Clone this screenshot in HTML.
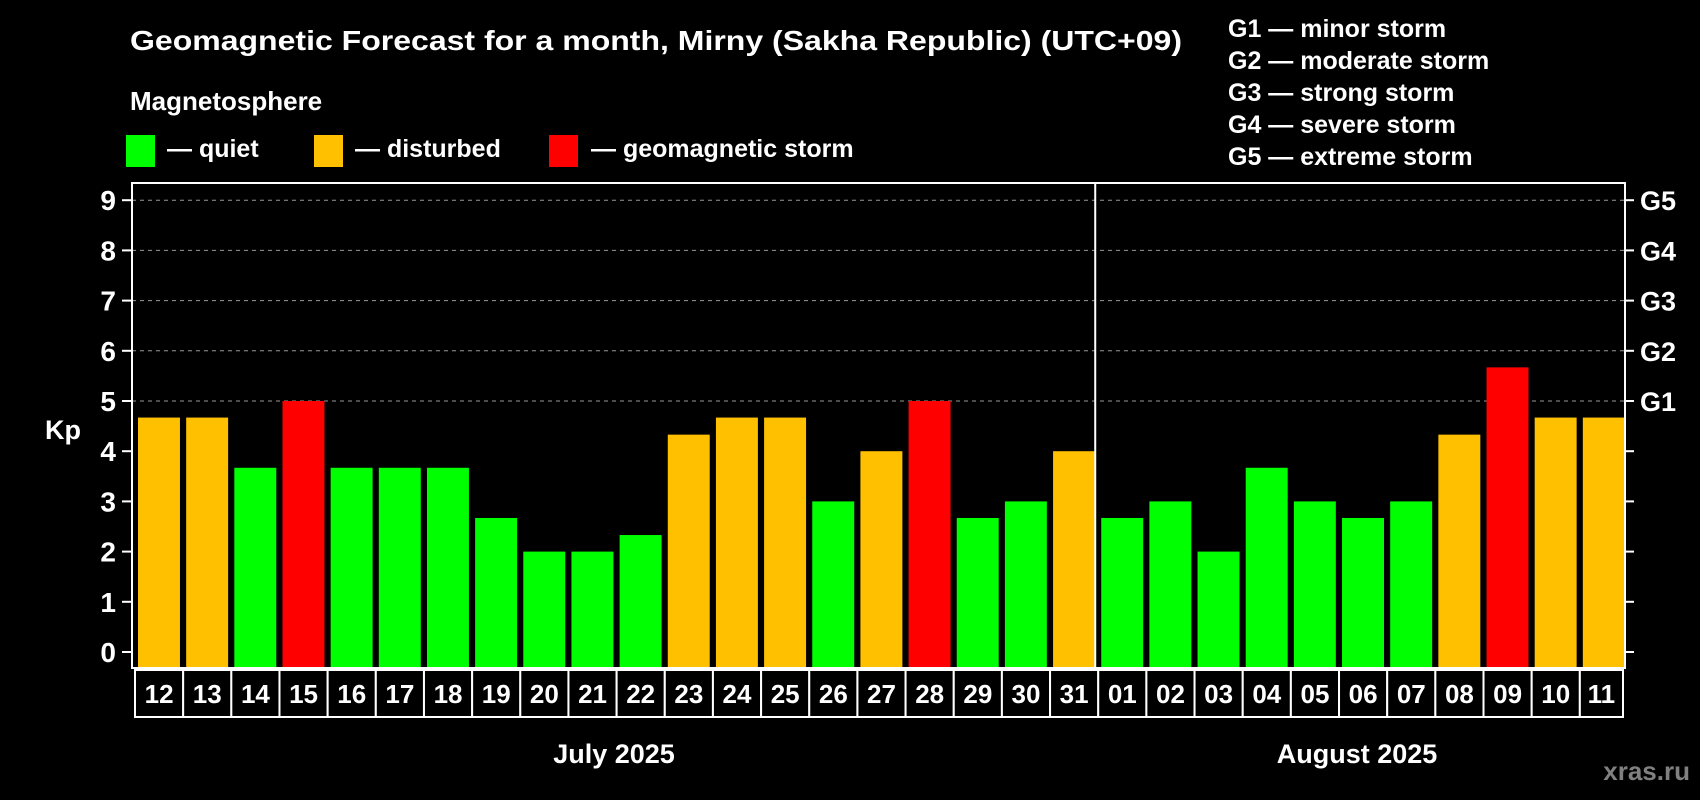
<!DOCTYPE html>
<html><head><meta charset="utf-8"><style>
html,body{margin:0;padding:0;background:#000}
svg{display:block}
text{font-family:"Liberation Sans",Arial,sans-serif;font-weight:bold;fill:#fff}
</style></head><body>
<svg id="c" width="1700" height="800" viewBox="0 0 1700 800">
<rect width="1700" height="800" fill="#000"/>
<text x="130" y="50" font-size="28" textLength="1052" lengthAdjust="spacingAndGlyphs">Geomagnetic Forecast for a month, Mirny (Sakha Republic) (UTC+09)</text>
<text x="130" y="110" font-size="26">Magnetosphere</text>
<g><rect x="126" y="135" width="29" height="32" fill="#00ff00"/><text x="167" y="157" font-size="25">— quiet</text></g>
<g><rect x="314" y="135" width="29" height="32" fill="#ffc000"/><text x="355" y="157" font-size="25">— disturbed</text></g>
<g><rect x="549" y="135" width="29" height="32" fill="#ff0000"/><text x="591" y="157" font-size="25">— geomagnetic storm</text></g>
<g font-size="25">
<text x="1228" y="37">G1 — minor storm</text>
<text x="1228" y="69">G2 — moderate storm</text>
<text x="1228" y="101">G3 — strong storm</text>
<text x="1228" y="133">G4 — severe storm</text>
<text x="1228" y="165">G5 — extreme storm</text>
</g>
<text x="63" y="439" font-size="27" text-anchor="middle">Kp</text>
<g id="plot"></g>
<text x="614" y="763" font-size="27" text-anchor="middle">July 2025</text>
<text x="1357" y="763" font-size="27" text-anchor="middle">August 2025</text>
<text x="1690" y="780" font-size="26" text-anchor="end" style="fill:#808080">xras.ru</text>
</svg>
<script>
const days=["12","13","14","15","16","17","18","19","20","21","22","23","24","25","26","27","28","29","30","31","01","02","03","04","05","06","07","08","09","10","11"];
const kp=[4.67,4.67,3.67,5,3.67,3.67,3.67,2.67,2,2,2.33,4.33,4.67,4.67,3,4,5,2.67,3,4,2.67,3,2,3.67,3,2.67,3,4.33,5.67,4.67,4.67];
const status=["d","d","q","s","q","q","q","q","q","q","q","d","d","d","q","d","s","q","q","d","q","q","q","q","q","q","q","d","s","d","d"];
const yTicks=["0","1","2","3","4","5","6","7","8","9"];
const gLabels=["G1","G2","G3","G4","G5"];
const L=132,R=1625,T=183,B=668,Y0=652,UNIT=50.2;
const slot=(R-L)/days.length;
const y=v=>Y0-v*UNIT;
const x=i=>L+i*slot;
const col={q:"#00ff00",d:"#ffc000",s:"#ff0000"};
const NS="http://www.w3.org/2000/svg";
const g=document.getElementById("plot");
function mk(t,a){const e=document.createElementNS(NS,t);for(const k in a)e.setAttribute(k,a[k]);g.appendChild(e);return e;}
// grid
for(let v=5;v<=9;v++){const e=mk("line",{x1:L,x2:R,y1:y(v),y2:y(v),stroke:"#999","stroke-width":1,"stroke-dasharray":"4,4"});

}
// bars
kp.forEach((v,i)=>{const e=mk("rect",{x:x(i)+6,y:y(v),width:slot-6.2,height:B-1-y(v),fill:col[status[i]]});

});
// axes
const fr=mk("rect",{x:L,y:T,width:R-L,height:B-T,fill:"none",stroke:"#fff","stroke-width":2});


const sep=mk("line",{x1:x(20),x2:x(20),y1:T,y2:B,stroke:"#fff","stroke-width":2});


yTicks.forEach((t,i)=>{const v=+t;
mk("line",{x1:L-10,x2:L,y1:y(v),y2:y(v),stroke:"#fff","stroke-width":2});
mk("line",{x1:R,x2:R+9,y1:y(v),y2:y(v),stroke:"#fff","stroke-width":2});
const e=mk("text",{x:L-16,y:y(v)+10,"font-size":28,"text-anchor":"end"});e.textContent=t;

});
gLabels.forEach((t,i)=>{const e=mk("text",{x:R+15,y:y(5+i)+10,"font-size":27});e.textContent=t;

});
// day boxes
days.forEach((d,i)=>{const x0=Math.max(x(i)+3,135),x1=Math.min(x(i+1)+3,1623);
const r=mk("rect",{x:x0,y:670,width:x1-x0,height:47,fill:"#000",stroke:"#fff","stroke-width":2});


const e=mk("text",{x:(x0+x1)/2,y:703,"font-size":26,"text-anchor":"middle"});e.textContent=d;

});
</script>
</body></html>
